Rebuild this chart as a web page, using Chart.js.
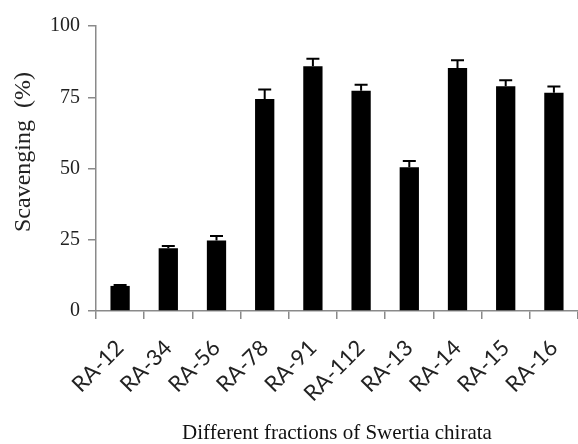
<!DOCTYPE html>
<html>
<head>
<meta charset="utf-8">
<script src="https://cdn.jsdelivr.net/npm/chart.js@4.4.0/dist/chart.umd.min.js"></script>
<style>
  html, body { margin: 0; padding: 0; background: #fff; }
  #wrap { width: 578px; height: 444px; }
</style>
</head>
<body>
<div id="wrap"><canvas id="c" width="578" height="444"></canvas></div>
<script>
const categories = ["RA-12", "RA-34", "RA-56", "RA-78", "RA-91", "RA-112", "RA-13", "RA-14", "RA-15", "RA-16"];
const scavenging = [8.8, 22.0, 24.7, 74.4, 85.9, 77.3, 50.4, 85.3, 78.9, 76.6];
const errors = [0.3, 0.8, 1.6, 3.3, 2.6, 2.1, 2.2, 2.7, 2.1, 2.2];
const yTicks = [0, 25, 50, 75, 100];
const yTitle = "Scavenging  (%)";
const xTitle = "Different fractions of Swertia chirata";

const axisGray = "#8a8a8a";

const errorBarPlugin = {
  id: "errorBars",
  afterDatasetsDraw(chart) {
    const ctx = chart.ctx;
    const meta = chart.getDatasetMeta(0);
    const yScale = chart.scales.y;
    ctx.save();
    ctx.strokeStyle = "#000";
    ctx.lineWidth = 2;
    meta.data.forEach((bar, i) => {
      const v = scavenging[i];
      const top = yScale.getPixelForValue(v + errors[i]);
      const base = yScale.getPixelForValue(v);
      ctx.beginPath();
      ctx.moveTo(bar.x, base);
      ctx.lineTo(bar.x, top);
      ctx.moveTo(bar.x - 6.5, top);
      ctx.lineTo(bar.x + 6.5, top);
      ctx.stroke();
    });
    ctx.restore();
  }
};

const yTitlePlugin = {
  id: "yTitle",
  afterDraw(chart) {
    const ctx = chart.ctx;
    ctx.save();
    ctx.translate(24, 152);
    ctx.rotate(-Math.PI / 2);
    ctx.font = "24px 'Liberation Serif'";
    ctx.fillStyle = "#222";
    ctx.textAlign = "center";
    ctx.textBaseline = "middle";
    ctx.fillText(yTitle, 0, 0);
    ctx.restore();
  }
};

new Chart(document.getElementById("c"), {
  type: "bar",
  data: {
    labels: categories,
    datasets: [{
      data: scavenging,
      backgroundColor: "#000",
      borderColor: "#000",
      borderWidth: 0,
      barPercentage: 0.4,
      categoryPercentage: 1.0
    }]
  },
  options: {
    responsive: false,
    animation: false,
    devicePixelRatio: 1,
    layout: { padding: { top: 26, left: 0, right: 0, bottom: 0 } },
    plugins: {
      legend: { display: false },
      tooltip: { enabled: false },
      title: { display: false }
    },
    scales: {
      x: {
        offset: true,
        grid: {
          display: true,
          drawOnChartArea: false,
          drawTicks: true,
          tickLength: 8,
          color: axisGray,
          lineWidth: 1.5,
          offset: true
        },
        border: { display: true, color: axisGray, width: 1.5 },
        ticks: {
          minRotation: 45,
          maxRotation: 45,
          padding: 16,
          color: "#222",
          font: { family: "Lato", size: 22 }
        },
        title: {
          display: true,
          text: xTitle,
          color: "#111",
          padding: { top: 0, bottom: 0 },
          font: { family: "Liberation Serif", size: 21, lineHeight: 1 }
        },
        afterFit(scale) {
          scale.height = 133;
          scale.paddingLeft = 0;
          scale.paddingRight = 0;
        }
      },
      y: {
        min: 0,
        max: 100,
        afterBuildTicks(scale) { scale.ticks = yTicks.map(v => ({ value: v })); },
        grid: {
          display: true,
          drawOnChartArea: false,
          drawTicks: true,
          tickLength: 8,
          color: axisGray,
          lineWidth: 1.5
        },
        border: { display: true, color: axisGray, width: 1.5 },
        ticks: {
          padding: 8,
          color: "#222",
          font: { family: "Liberation Serif", size: 20 }
        },
        title: { display: false },
        afterFit(scale) {
          scale.width = 96;
          scale.paddingTop = 0;
          scale.paddingBottom = 0;
        }
      }
    }
  },
  plugins: [errorBarPlugin, yTitlePlugin]
});
</script>
</body>
</html>
